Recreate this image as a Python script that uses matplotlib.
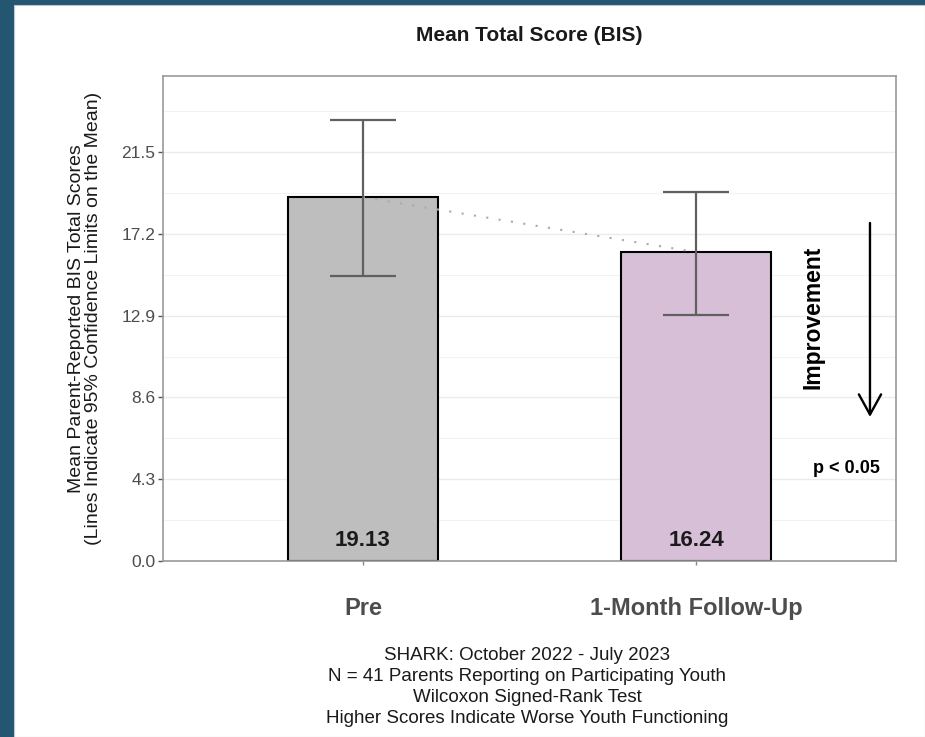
import matplotlib
matplotlib.use("Agg")
import matplotlib.pyplot as plt
from matplotlib.patches import Rectangle
from matplotlib.ticker import FixedLocator
import matplotlib.transforms as mtransforms

plt.rcParams['font.family'] = ['Liberation Sans', 'DejaVu Sans']

# ---- data ----
categories = ["Pre", "1-Month Follow-Up"]
means = [19.13, 16.24]
ci_lower = [15.0, 12.95]
ci_upper = [23.2, 19.4]
bar_colors = ["#bebebe", "#d8bfd8"]
yticks = [0.0, 4.3, 8.6, 12.9, 17.2, 21.5]
ytick_labels = ["0.0", "4.3", "8.6", "12.9", "17.2", "21.5"]
title = "Mean Total Score (BIS)"
ylabel = "Mean Parent-Reported BIS Total Scores\n(Lines Indicate 95% Confidence Limits on the Mean)"
caption = ("SHARK: October 2022 - July 2023\n"
           "N = 41 Parents Reporting on Participating Youth\n"
           "Wilcoxon Signed-Rank Test\n"
           "Higher Scores Indicate Worse Youth Functioning")

W, H = 925, 737
fig = plt.figure(figsize=(W / 100, H / 100), dpi=100)
fig.patch.set_facecolor("#245571")
bg = Rectangle((14 / W, 0), 1 - 14 / W, (H - 5) / H,
               transform=fig.transFigure, facecolor="white",
               edgecolor="#b8c8d4", linewidth=0.8, zorder=-10)
fig.patches.append(bg)

ax = fig.add_axes([163 / W, (H - 561) / H, (896 - 163) / W, (561 - 76) / H])
ax.set_facecolor("white")
x = list(range(1, len(categories) + 1))

ax.bar(x, means, width=0.45, color=bar_colors, edgecolor="black", linewidth=1.5, zorder=2)
ax.plot(x, means, linestyle=(0, (1, 5)), color="#aaaaaa", linewidth=1.5, zorder=3)
yerr = [[m - l for m, l in zip(means, ci_lower)], [u - m for m, u in zip(means, ci_upper)]]
ax.errorbar(x, means, yerr=yerr, fmt="none", ecolor="#606060", elinewidth=1.6,
            capsize=24, capthick=1.6, zorder=4)

# value labels
trans = mtransforms.blended_transform_factory(ax.transData, ax.transAxes)
for xi, m in zip(x, means):
    ax.text(xi, 0.043, f"{m:.2f}", transform=trans, ha="center", va="center",
            fontsize=16, fontweight="bold", color="#1a1a1a", zorder=5)

ax.set_xlim(0.4, 2.6)
ax.set_ylim(0, 25.5)
ax.set_xticks(x)
ax.set_xticklabels(categories, fontsize=17, fontweight="bold", color="#4d4d4d")
ax.yaxis.set_major_locator(FixedLocator(yticks))
ax.set_yticklabels(ytick_labels, fontsize=12.5, color="#4d4d4d")
ax.yaxis.set_minor_locator(FixedLocator([2.15, 6.45, 10.75, 15.05, 19.35, 23.65]))
ax.tick_params(axis="x", length=3, width=1, color="#888888", pad=23)
ax.tick_params(axis="y", which="major", length=3.5, width=1, color="#555555", pad=2)
ax.tick_params(axis="y", which="minor", length=0)
ax.grid(axis="y", which="major", color="#ebebeb", linewidth=1.0, zorder=0)
ax.grid(axis="y", which="minor", color="#f2f2f2", linewidth=0.7, zorder=0)
ax.set_axisbelow(True)
for s in ax.spines.values():
    s.set_color("#999999")
    s.set_linewidth(1.2)

ax.set_ylabel(ylabel, fontsize=14, color="#1a1a1a", labelpad=14, linespacing=1.0)
ax.set_title(title, fontsize=15, fontweight="bold", color="#1a1a1a", pad=25)

# improvement annotation
ax.annotate("", xy=(0.9645, 0.297), xytext=(0.9645, 0.697), xycoords="axes fraction",
            arrowprops=dict(arrowstyle="->,head_length=1.45,head_width=0.8", color="black",
                            lw=1.7, shrinkA=0, shrinkB=0))
ax.text(0.887, 0.503, "Improvement", transform=ax.transAxes, rotation=90,
        ha="center", va="center", fontsize=16.5, fontweight="bold", color="black")
ax.text(0.932, 0.19, "p < 0.05", transform=ax.transAxes, ha="center", va="center",
        fontsize=13, fontweight="bold", color="black")

fig.text(527 / W, 1 - 687 / H, caption, ha="center", va="center", fontsize=13.5,
         color="#1a1a1a", linespacing=1.3)

fig.savefig("out.png", dpi=100, facecolor=fig.get_facecolor())
